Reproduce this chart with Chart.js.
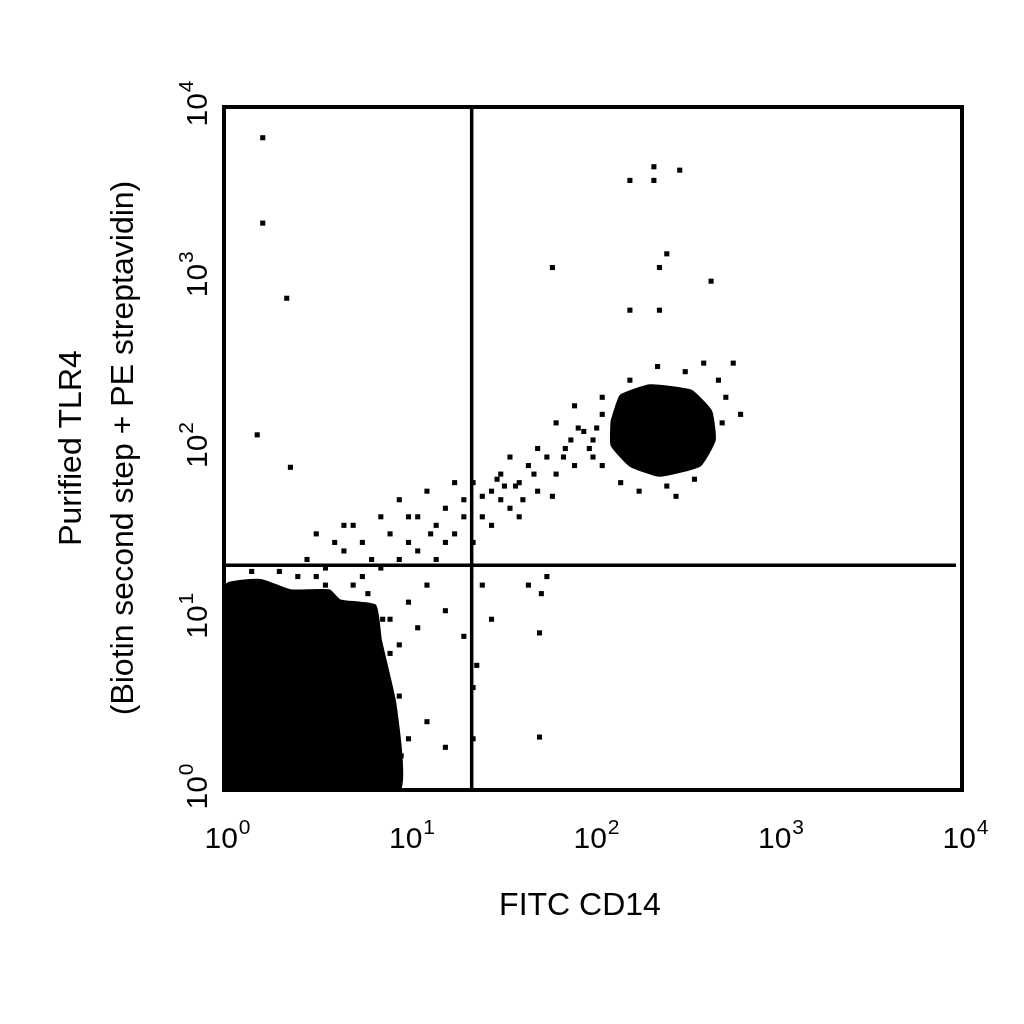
<!DOCTYPE html>
<html>
<head>
<meta charset="utf-8">
<script src="https://cdn.jsdelivr.net/npm/chart.js@4/dist/chart.umd.min.js"></script>
<style>
  body { margin: 0; background: #fff; }
  #wrap { width: 1024px; height: 1024px; }
</style>
</head>
<body>
<div id="wrap"><canvas id="plot"></canvas></div>
<script>
// Axis ticks (decades) and quadrant gates
const tickValues = [1, 10, 100, 1000, 10000];
const tickExponents = ['0', '1', '2', '3', '4'];
const gateX = 22;
const gateY = 20.7;

// Events as [log10 FITC, log10 PE]
const sparseEvents = [
  [0.21, 3.82], [0.21, 3.32], [0.34, 2.88], [0.18, 2.08], [0.36, 1.89],
  [1.78, 3.06], [2.20, 3.57], [2.33, 3.65], [2.33, 3.57], [2.47, 3.63],
  [2.40, 3.14], [2.36, 3.06], [2.64, 2.98], [2.20, 2.81], [2.36, 2.81],
  [2.76, 2.50], [1.71, 0.92], [1.71, 0.31], [1.37, 0.73]
];
const tailEvents = [
  [0.45, 1.35], [0.5, 1.5], [0.55, 1.3], [0.6, 1.45], [0.65, 1.4], [0.7, 1.55],
  [0.75, 1.45], [0.8, 1.35], [0.85, 1.6], [0.9, 1.5], [0.95, 1.7], [1.0, 1.45],
  [1.05, 1.6], [1.1, 1.75], [1.15, 1.55], [1.2, 1.65], [1.25, 1.5], [1.3, 1.7],
  [1.35, 1.8], [1.4, 1.6], [1.45, 1.75], [1.5, 1.85], [1.55, 1.65], [1.6, 1.8],
  [1.65, 1.9], [1.7, 1.75], [1.75, 1.95], [1.8, 1.85], [1.85, 2.0], [1.9, 1.9],
  [1.95, 2.1], [2.0, 1.95], [2.05, 2.2], [1.55, 1.95], [1.45, 1.55], [1.25, 1.8],
  [1.05, 1.4], [0.85, 1.3], [0.65, 1.55], [1.6, 1.6], [1.7, 2.0], [1.8, 2.15],
  [1.9, 2.25], [1.35, 1.45], [1.15, 1.35], [0.95, 1.35], [0.75, 1.25], [0.55, 1.2],
  [0.4, 1.25], [1.3, 1.6], [1.5, 1.7], [1.62, 1.7], [1.4, 1.72], [1.2, 1.45],
  [1.0, 1.6], [1.58, 1.78], [1.68, 1.85], [1.78, 1.72], [1.88, 2.05], [1.98, 2.0],
  [1.52, 1.78], [1.48, 1.82], [1.92, 2.12], [2.02, 2.12], [1.84, 1.95], [1.12, 1.5],
  [0.9, 1.0], [1.0, 1.1], [1.05, 0.95], [1.1, 1.2], [0.95, 0.85], [1.2, 1.05],
  [1.3, 0.9], [1.35, 0.6], [1.35, 0.3], [1.4, 1.2], [1.45, 1.0], [1.75, 1.25],
  [1.65, 1.2], [1.72, 1.15], [1.1, 0.4], [1.2, 0.25], [0.95, 0.55], [1.0, 0.3]
];
const haloEvents = [
  [0.9, 0.8], [0.88, 0.65], [0.92, 0.4], [0.96, 0.2], [0.86, 1.0], [0.7, 1.2],
  [0.5, 1.25], [0.3, 1.28], [0.15, 1.28], [0.78, 1.15],
  [2.0, 2.05], [2.05, 1.9], [2.15, 1.8], [2.25, 1.75], [2.4, 1.78], [2.55, 1.82],
  [2.7, 2.15], [2.72, 2.3], [2.68, 2.4], [2.5, 2.45], [2.35, 2.48], [2.2, 2.4],
  [2.05, 2.3], [2.6, 2.5], [2.8, 2.2], [2.45, 1.72]
];
// Outlines of the two dense populations
const negativeBlob = [
  [0.01, 0], [0.95, 0], [0.93, 0.5], [0.85, 0.88], [0.82, 1.08], [0.63, 1.11],
  [0.57, 1.17], [0.36, 1.17], [0.2, 1.23], [0.01, 1.2], [0.01, 0]
];
const positiveBlob = [
  [2.10, 2.16], [2.15, 2.31], [2.31, 2.37], [2.53, 2.34], [2.64, 2.22],
  [2.66, 2.05], [2.58, 1.90], [2.36, 1.84], [2.20, 1.90], [2.10, 2.02], [2.10, 2.16]
];

const toPoints = arr => arr.map(p => ({ x: Math.pow(10, p[0]), y: Math.pow(10, p[1]) }));

const dotStyle = {
  showLine: false, pointStyle: 'rect', pointRadius: 3.6,
  backgroundColor: '#000', borderWidth: 0
};
const blobStyle = {
  showLine: true, fill: 'shape', backgroundColor: '#000', borderColor: '#000',
  borderWidth: 2, pointRadius: 0, tension: 0.15
};

const FONT = '"Liberation Sans", Arial, sans-serif';

const decorations = {
  id: 'decorations',
  afterDatasetsDraw(chart) {
    const { ctx, chartArea: a, scales: { x, y } } = chart;
    ctx.save();
    ctx.strokeStyle = '#000';
    ctx.lineWidth = 3.5;
    const gx = x.getPixelForValue(gateX);
    const gy = y.getPixelForValue(gateY);
    ctx.beginPath();
    ctx.moveTo(gx, a.top); ctx.lineTo(gx, a.bottom);
    ctx.moveTo(a.left, gy); ctx.lineTo(a.right - 6, gy);
    ctx.stroke();
    ctx.lineWidth = 4;
    ctx.strokeRect(a.left, a.top, a.right - a.left, a.bottom - a.top);

    ctx.fillStyle = '#000';
    const drawPow = (cx, cy, exp) => {
      ctx.font = '30px ' + FONT;
      const w1 = ctx.measureText('10').width;
      ctx.font = '21px ' + FONT;
      const w2 = ctx.measureText(exp).width;
      const start = cx - (w1 + w2) / 2 + 3;
      ctx.textBaseline = 'alphabetic';
      ctx.textAlign = 'left';
      ctx.font = '30px ' + FONT;
      ctx.fillText('10', start, cy);
      ctx.font = '21px ' + FONT;
      ctx.fillText(exp, start + w1 + 1, cy - 14);
    };
    tickValues.forEach((v, i) => {
      drawPow(x.getPixelForValue(v), 848, tickExponents[i]);
      ctx.save();
      ctx.translate(207, y.getPixelForValue(v));
      ctx.rotate(-Math.PI / 2);
      drawPow(0, 0, tickExponents[i]);
      ctx.restore();
    });

    ctx.font = '32px ' + FONT;
    ctx.textAlign = 'center';
    ctx.textBaseline = 'middle';
    ctx.fillText('FITC CD14', 580, 906);
    ctx.save();
    ctx.translate(72, 448);
    ctx.rotate(-Math.PI / 2);
    ctx.fillText('Purified TLR4', 0, 0);
    ctx.fillText('(Biotin second step + PE streptavidin)', 0, 52);
    ctx.restore();
    ctx.restore();
  }
};

new Chart(document.getElementById('plot'), {
  type: 'scatter',
  data: {
    datasets: [
      { data: toPoints(negativeBlob), ...blobStyle },
      { data: toPoints(positiveBlob), ...blobStyle },
      { data: toPoints(haloEvents), ...dotStyle },
      { data: toPoints(tailEvents), ...dotStyle },
      { data: toPoints(sparseEvents), ...dotStyle }
    ]
  },
  options: {
    responsive: true,
    maintainAspectRatio: false,
    animation: false,
    layout: { padding: { left: 224, right: 62, top: 107, bottom: 234 } },
    scales: {
      x: { type: 'logarithmic', min: 1, max: 10000, display: false },
      y: { type: 'logarithmic', min: 1, max: 10000, display: false }
    },
    plugins: { legend: { display: false }, tooltip: { enabled: false } }
  },
  plugins: [decorations]
});
</script>
</body>
</html>
